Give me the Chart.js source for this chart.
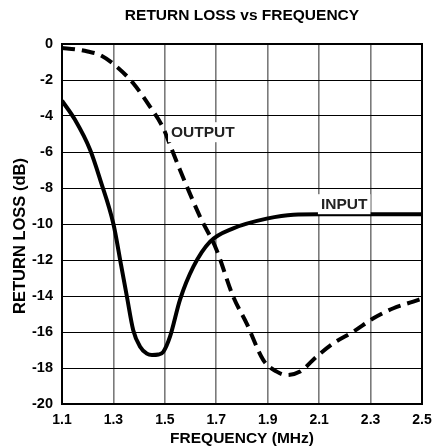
<!DOCTYPE html>
<html><head><meta charset="utf-8">
<script src="https://cdn.jsdelivr.net/npm/chart.js@4/dist/chart.umd.min.js"></script>
<style>html,body{margin:0;padding:0;background:#fff;}</style>
</head><body>
<canvas id="c" width="432" height="448" style="width:432px;height:448px;display:block"></canvas>
<script>
const xTicks = [1.1, 1.3, 1.5, 1.7, 1.9, 2.1, 2.3, 2.5];
const yTicks = [0, -2, -4, -6, -8, -10, -12, -14, -16, -18, -20];

const inputFreq = [1.1, 1.15, 1.21, 1.25, 1.3, 1.33, 1.352, 1.377, 1.403, 1.43, 1.45, 1.475, 1.494, 1.52, 1.559, 1.611, 1.676, 1.766, 1.896, 2.0, 2.1, 2.3, 2.5];
const inputLoss = [-3.15, -4.2, -5.9, -7.6, -10.0, -12.3, -14.0, -15.9, -16.8, -17.2, -17.28, -17.25, -17.1, -16.26, -14.2, -12.37, -10.98, -10.24, -9.7, -9.48, -9.46, -9.46, -9.46];

const outputFreq = [1.1, 1.157, 1.2, 1.248, 1.313, 1.377, 1.442, 1.494, 1.52, 1.559, 1.637, 1.7, 1.766, 1.818, 1.883, 1.935, 1.974, 2.026, 2.09, 2.155, 2.233, 2.311, 2.389, 2.466, 2.5];
const outputLoss = [-0.22, -0.3, -0.42, -0.61, -1.26, -2.18, -3.48, -4.68, -5.6, -7.0, -9.6, -11.4, -14.04, -15.52, -17.56, -18.2, -18.39, -18.2, -17.37, -16.63, -15.98, -15.24, -14.68, -14.31, -14.15];

const seriesNames = ['INPUT', 'OUTPUT'];
const labelAnchors = [
  { text: 'INPUT', x: 2.107, y: -8.9 },
  { text: 'OUTPUT', x: 1.524, y: -4.9 }
];
const yTitle = 'RETURN LOSS (dB)';

const FONT = 'Liberation Sans, Arial, sans-serif';
const toPts = (xs, ys) => xs.map((x, i) => ({ x: x, y: ys[i] }));

const framePlugin = {
  id: 'frame',
  afterDatasetsDraw(chart) {
    const { ctx, chartArea: a } = chart;
    ctx.save();
    const xs = chart.scales.x, ys = chart.scales.y;
    ctx.font = 'bold 15.5px ' + FONT;
    ctx.textBaseline = 'middle';
    ctx.textAlign = 'left';
    labelAnchors.forEach(l => {
      const px = xs.getPixelForValue(l.x), py = ys.getPixelForValue(l.y);
      const w = ctx.measureText(l.text).width;
      ctx.fillStyle = '#fff';
      ctx.fillRect(px - 3, py - 10, w + 6, 20);
      ctx.fillStyle = '#222';
      ctx.fillText(l.text, px, py + 1);
    });
    ctx.strokeStyle = '#000';
    ctx.lineWidth = 2;
    ctx.strokeRect(a.left, a.top, a.right - a.left, a.bottom - a.top);
    // y axis title
    ctx.translate(19, (a.top + a.bottom) / 2 + 12);
    ctx.rotate(-Math.PI / 2);
    ctx.textAlign = 'center';
    ctx.fillStyle = '#000';
    ctx.font = 'bold 16.5px ' + FONT;
    ctx.fillText(yTitle, 0, 1);
    ctx.restore();
  }
};

new Chart(document.getElementById('c'), {
  type: 'line',
  data: {
    datasets: [
      { label: seriesNames[0], data: toPts(inputFreq, inputLoss), borderColor: '#000', borderWidth: 4,
        pointRadius: 0, cubicInterpolationMode: 'monotone', fill: false },
      { label: seriesNames[1], data: toPts(outputFreq, outputLoss), borderColor: '#000', borderWidth: 4,
        borderDash: [13, 7], pointRadius: 0, cubicInterpolationMode: 'monotone', fill: false }
    ]
  },
  plugins: [framePlugin],
  options: {
    responsive: false,
    animation: false,
    devicePixelRatio: 1,
    layout: { padding: { left: 0, right: 10, top: 0, bottom: 0 } },
    plugins: {
      legend: { display: false },
      tooltip: { enabled: false },
      title: {
        display: true, text: 'RETURN LOSS vs FREQUENCY', color: '#000', fullSize: false,
        font: { family: FONT, size: 15.5, weight: 'bold' }, padding: { top: 6, bottom: 19.4 }
      }
    },
    scales: {
      x: {
        type: 'linear', min: 1.1, max: 2.5,
        afterBuildTicks: s => { s.ticks = xTicks.map(v => ({ value: v })); },
        afterFit: s => { s.height = 44; s.paddingLeft = 0; s.paddingRight = 0; },
        ticks: { callback: v => Number(v).toFixed(1), color: '#000', padding: 8, maxRotation: 0, autoSkip: false,
          font: { family: FONT, size: 14, weight: 'bold' } },
        grid: { color: '#7a7a7a', lineWidth: 1.6, drawTicks: false },
        border: { display: false },
        title: { display: true, text: 'FREQUENCY (MHz)', color: '#000', padding: { top: 0, bottom: 0 },
          font: { family: FONT, size: 15.5, weight: 'bold' } }
      },
      y: {
        type: 'linear', min: -20, max: 0,
        afterBuildTicks: s => { s.ticks = yTicks.map(v => ({ value: v })); },
        afterFit: s => { s.width = 62; s.paddingTop = 0; s.paddingBottom = 0; },
        ticks: { callback: v => String(v), color: '#000', padding: 9, autoSkip: false,
          font: { family: FONT, size: 14.5, weight: 'bold' } },
        grid: { color: '#000', lineWidth: 1, drawTicks: false },
        border: { display: false },
        title: { display: false }
      }
    }
  }
});
</script>
</body></html>
